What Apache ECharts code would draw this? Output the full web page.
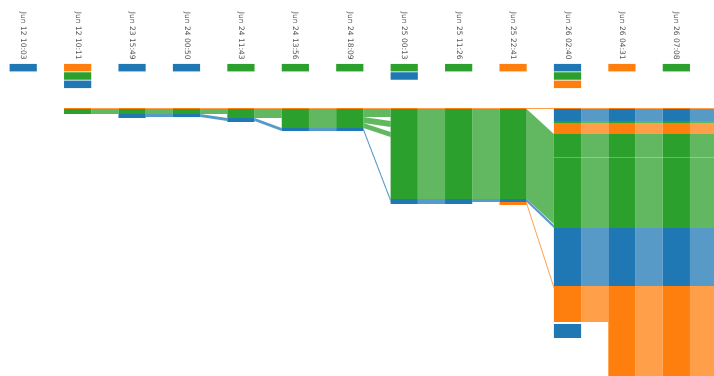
<!DOCTYPE html>
<html>
<head>
<meta charset="utf-8">
<script src="https://cdn.jsdelivr.net/npm/echarts@6/dist/echarts.min.js"></script>
<style>
  html, body { margin: 0; padding: 0; background: #fff; }
  #main { width: 714px; height: 376px; }
</style>
</head>
<body>
<div id="main"></div>
<script>
var colors = { b: '#1f77b4', o: '#ff7f0e', g: '#2ca02c' };

var times = ['Jun 12 10:03', 'Jun 12 10:11', 'Jun 23 15:49', 'Jun 24 00:50', 'Jun 24 11:43',
    'Jun 24 13:56', 'Jun 24 18:09', 'Jun 25 00:13', 'Jun 25 11:26', 'Jun 25 22:41',
    'Jun 26 02:40', 'Jun 26 04:31', 'Jun 26 07:08', ''];

// small colour markers under each timestamp
var markers = [['b'], ['o', 'g', 'b'], ['b'], ['b'], ['g'], ['g'], ['g'], ['g', 'b'],
    ['g'], ['o'], ['b', 'g', 'o'], ['o'], ['g'], ['g']];

// stacked records per column, top to bottom: [colour, count] ('' = gap)
var late = [['o', 1], ['b', 12], ['g', 2], ['o', 11], ['g', 23], ['o', 1], ['g', 70], ['b', 58], ['o', 100]];
var stacks = [
    [],
    [['o', 1], ['g', 5]],
    [['o', 1], ['g', 5], ['b', 4]],
    [['o', 1], ['g', 5], ['b', 3]],
    [['o', 1], ['g', 9], ['b', 4]],
    [['o', 1], ['g', 19], ['b', 3]],
    [['o', 1], ['g', 19], ['b', 3]],
    [['o', 1], ['g', 90], ['b', 5]],
    [['o', 1], ['g', 90], ['b', 5]],
    [['o', 1], ['g', 90], ['b', 3], ['o', 3]],
    [['o', 1], ['b', 12], ['g', 2], ['o', 11], ['g', 23], ['o', 1], ['g', 70], ['b', 58], ['o', 36], ['', 2], ['b', 14]],
    late, late, late
];

// flows between neighbouring columns: [fromColumn, sourceOffset, targetOffset, count, colour]
var links = [
    [1, 0, 0, 1, 'o'], [1, 1, 1, 5, 'g'],
    [2, 0, 0, 1, 'o'], [2, 1, 1, 5, 'g'], [2, 6, 6, 3, 'b'],
    [3, 0, 0, 1, 'o'], [3, 1, 1, 5, 'g'], [3, 6, 10, 3, 'b'],
    [4, 0, 0, 1, 'o'], [4, 1, 1, 9, 'g'], [4, 10, 20, 3, 'b'],
    [5, 0, 0, 1, 'o'], [5, 1, 1, 19, 'g'], [5, 20, 20, 3, 'b'],
    [6, 0, 0, 1, 'o'], [6, 1, 1, 8, 'g'], [6, 9, 13, 6, 'g'], [6, 15, 24, 5, 'g'], [6, 20, 91, 3, 'b'],
    [7, 0, 0, 1, 'o'], [7, 1, 1, 90, 'g'], [7, 91, 91, 5, 'b'],
    [8, 0, 0, 1, 'o'], [8, 1, 1, 90, 'g'], [8, 91, 91, 3, 'b'],
    [9, 0, 0, 1, 'o'], [9, 1, 26, 90, 'g'], [9, 91, 117, 3, 'b'], [9, 94, 178, 3, 'o'],
    [10, 0, 0, 1, 'o'], [10, 1, 1, 12, 'b'], [10, 13, 13, 2, 'g'], [10, 15, 15, 11, 'o'], [10, 26, 26, 23, 'g'],
    [10, 49, 49, 1, 'o'], [10, 50, 50, 70, 'g'], [10, 120, 120, 58, 'b'], [10, 178, 178, 36, 'o'],
    [11, 0, 0, 1, 'o'], [11, 1, 1, 12, 'b'], [11, 13, 13, 2, 'g'], [11, 15, 15, 11, 'o'], [11, 26, 26, 23, 'g'],
    [11, 49, 49, 1, 'o'], [11, 50, 50, 70, 'g'], [11, 120, 120, 58, 'b'], [11, 178, 178, 100, 'o'],
    [12, 0, 0, 1, 'o'], [12, 1, 1, 12, 'b'], [12, 13, 13, 2, 'g'], [12, 15, 15, 11, 'o'], [12, 26, 26, 23, 'g'],
    [12, 49, 49, 1, 'o'], [12, 50, 50, 70, 'g'], [12, 120, 120, 58, 'b'], [12, 178, 178, 100, 'o']
];

var chart = echarts.init(document.getElementById('main'));

var segData = [], segColor = [];
stacks.forEach(function (stack, col) {
    var y = 0;
    stack.forEach(function (s) {
        if (s[0]) {
            segData.push([col, y, y + s[1]]);
            segColor.push(colors[s[0]]);
        }
        y += s[1];
    });
});

var markData = [], markColor = [];
markers.forEach(function (m, col) {
    m.forEach(function (c, row) {
        markData.push([col, row]);
        markColor.push(colors[c]);
    });
});

var linkData = links.map(function (l) { return [l[0], l[1], l[2], l[3]]; });

var option = {
    animation: false,
    grid: [
        { left: -4, right: -44, top: 63.5, height: 25, outerBoundsMode: 'none', containLabel: false },
        { left: -4, right: -44, top: 108, bottom: 0, outerBoundsMode: 'none', containLabel: false }
    ],
    xAxis: [
        {
            gridIndex: 0, type: 'category', data: times, position: 'top',
            axisLine: { show: false }, axisTick: { show: false },
            axisLabel: { rotate: 90, margin: 4, interval: 0, fontSize: 7.5, color: '#555', fontFamily: 'DejaVu Sans' }
        },
        { gridIndex: 1, type: 'category', data: times, show: false }
    ],
    yAxis: [
        { gridIndex: 0, type: 'category', data: ['0', '1', '2'], inverse: true, show: false },
        { gridIndex: 1, type: 'value', min: 0, max: 268, inverse: true, show: false }
    ],
    series: [
        { // flows
            type: 'custom', xAxisIndex: 1, yAxisIndex: 1, data: linkData, clip: false,
            renderItem: function (params, api) {
                var col = api.value(0), src = api.value(1), tgt = api.value(2), n = api.value(3);
                var w = api.size([1, 0])[0] * 0.5;
                var a0 = api.coord([col, src]), a1 = api.coord([col, src + n]);
                var b0 = api.coord([col + 1, tgt]), b1 = api.coord([col + 1, tgt + n]);
                var xa = a0[0] + w / 2, xb = b0[0] - w / 2;
                return {
                    type: 'polygon',
                    shape: { points: [[xa, a0[1]], [xb, b0[1]], [xb, b1[1]], [xa, a1[1]]] },
                    style: { fill: colors[links[params.dataIndex][4]], opacity: 0.75 }
                };
            }
        },
        { // column bars
            type: 'custom', xAxisIndex: 1, yAxisIndex: 1, data: segData, clip: false,
            renderItem: function (params, api) {
                var w = api.size([1, 0])[0] * 0.5;
                var p0 = api.coord([api.value(0), api.value(1)]);
                var p1 = api.coord([api.value(0), api.value(2)]);
                return {
                    type: 'rect',
                    shape: { x: p0[0] - w / 2, y: p0[1], width: w, height: p1[1] - p0[1] },
                    style: { fill: segColor[params.dataIndex] }
                };
            }
        },
        { // markers
            type: 'custom', xAxisIndex: 0, yAxisIndex: 0, data: markData,
            renderItem: function (params, api) {
                var w = api.size([1, 0])[0] * 0.5;
                var h = api.size([0, 1])[1] * 0.9;
                var p = api.coord([api.value(0), api.value(1)]);
                return {
                    type: 'rect',
                    shape: { x: p[0] - w / 2, y: p[1] - h / 2, width: w, height: h },
                    style: { fill: markColor[params.dataIndex] }
                };
            }
        }
    ]
};

chart.setOption(option);
</script>
</body>
</html>
